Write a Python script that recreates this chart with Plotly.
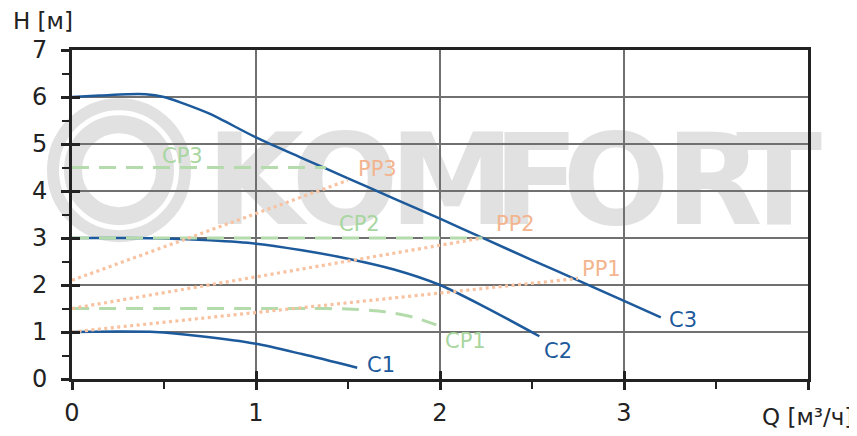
import plotly.graph_objects as go

# ---------------- data ----------------
q_c1 = [0, 0.25, 0.45, 0.7, 1.0, 1.25, 1.55]
h_c1 = [1.0, 1.01, 1.0, 0.91, 0.75, 0.53, 0.24]

q_c2 = [0, 0.3, 0.5, 0.75, 1.0, 1.25, 1.5, 1.75, 2.0, 2.25, 2.54]
h_c2 = [3.0, 3.0, 2.99, 2.95, 2.88, 2.74, 2.56, 2.33, 2.0, 1.52, 0.91]

q_c3 = [0, 0.15, 0.3, 0.4, 0.5, 0.6, 0.75, 1.0, 1.25, 1.5, 1.75, 2.0, 2.25, 2.5, 2.75, 3.0, 3.2]
h_c3 = [6.0, 6.03, 6.06, 6.06, 6.0, 5.87, 5.64, 5.14, 4.7, 4.27, 3.84, 3.41, 2.97, 2.53, 2.1, 1.66, 1.31]

q_cp1 = [0, 1.3, 1.5, 1.7, 1.85, 1.98]
h_cp1 = [1.5, 1.5, 1.49, 1.43, 1.32, 1.15]
q_cp2 = [0, 2.23]
h_cp2 = [3.0, 3.0]
q_cp3 = [0, 1.38]
h_cp3 = [4.5, 4.5]

q_pp1 = [0, 2.75]
h_pp1 = [1.0, 2.14]
q_pp2 = [0, 2.23]
h_pp2 = [1.5, 3.0]
q_pp3 = [0, 1.5]
h_pp3 = [2.1, 4.23]

x_tick_vals = [0, 1, 2, 3, 4]
x_tick_text = ["0", "1", "2", "3", ""]
y_tick_vals = [0, 1, 2, 3, 4, 5, 6, 7]
y_tick_text = ["0", "1", "2", "3", "4", "5", "6", "7"]

curve_names = ["C1", "C2", "C3", "CP1", "CP2", "CP3", "PP1", "PP2", "PP3"]
label_q = [1.68, 2.64, 3.32, 2.14, 1.56, 0.60, 2.88, 2.41, 1.66]
label_h = [0.29, 0.60, 1.26, 0.81, 3.29, 4.74, 2.34, 3.29, 4.46]

watermark_letters = ["K", "O", "M", "F", "O", "R", "T"]
watermark_centers = [255, 345, 452, 536, 616, 714, 779]  # px on screen

# ---------------- styles ----------------
BLUE = "#1d5a9b"
GREEN = "#b3dbab"
ORANGE = "#f8c2a0"
GREEN_TXT = "#a8d69f"
ORANGE_TXT = "#f3b48e"
AX = "#222222"
FONT = "DejaVu Sans"
WM = "#e1e1e1"

OFF = 8  # page body margin
W, H = 857, 436
L, T = 72 - OFF, 49.5 - OFF
PW, PH = 736, 330
R = W - L - PW
B = H - T - PH

def px2paper_x(px):
    return (px - OFF - L) / PW

def px2paper_y(py):
    return (T + PH - (py - OFF)) / PH

fig = go.Figure()

for q, h in [(q_c1, h_c1), (q_c2, h_c2), (q_c3, h_c3)]:
    fig.add_trace(go.Scatter(x=q, y=h, mode="lines", line=dict(color=BLUE, width=2.5, shape="spline", smoothing=0.8),
                             showlegend=False, hoverinfo="skip"))
for q, h in [(q_cp1, h_cp1), (q_cp2, h_cp2), (q_cp3, h_cp3)]:
    fig.add_trace(go.Scatter(x=q, y=h, mode="lines", line=dict(color=GREEN, width=3, dash="17px,10px", shape="spline", smoothing=0.6),
                             showlegend=False, hoverinfo="skip"))
for q, h in [(q_pp1, h_pp1), (q_pp2, h_pp2), (q_pp3, h_pp3)]:
    fig.add_trace(go.Scatter(x=q, y=h, mode="lines", line=dict(color=ORANGE, width=3.2, dash="3px,3.5px"),
                             showlegend=False, hoverinfo="skip"))

fig.add_trace(go.Scatter(x=[None], y=[None], xaxis="x2", yaxis="y2", showlegend=False, hoverinfo="skip"))

label_colors = [BLUE] * 3 + [GREEN_TXT] * 3 + [ORANGE_TXT] * 3
for name, q, h, c in zip(curve_names, label_q, label_h, label_colors):
    fig.add_annotation(x=q, y=h, text=name, showarrow=False, xanchor="center", yanchor="middle",
                       font=dict(family=FONT, size=21, color=c))

fig.add_annotation(xref="paper", yref="paper", x=px2paper_x(11), y=px2paper_y(20), text="H [м]",
                   showarrow=False, xanchor="left", yanchor="middle", font=dict(family=FONT, size=23, color=AX))
fig.add_annotation(xref="paper", yref="paper", x=px2paper_x(855), y=px2paper_y(418), text="Q [м³/ч]",
                   showarrow=False, xanchor="right", yanchor="middle", font=dict(family=FONT, size=23, color=AX))

cx, cy = px2paper_x(119), px2paper_y(170)
shapes = []
for r_mid, lw in [(66, 12), (46, 18)]:
    shapes.append(dict(type="circle", xref="paper", yref="paper", xsizemode="pixel", ysizemode="pixel",
                       xanchor=cx, yanchor=cy, x0=-r_mid, x1=r_mid, y0=-r_mid, y1=r_mid,
                       line=dict(color=WM, width=lw), fillcolor="rgba(0,0,0,0)", layer="below"))
for letter, pxc in zip(watermark_letters, watermark_centers):
    xc = px2paper_x(pxc)
    yc = px2paper_y(171.5)
    shapes.append(dict(type="rect", xref="paper", yref="paper", x0=xc - 0.06, x1=xc + 0.06,
                       y0=yc - 0.2, y1=yc + 0.2,
                       line=dict(width=0), fillcolor="rgba(0,0,0,0)", layer="below",
                       label=dict(text=letter, textposition="middle center",
                                  font=dict(family=FONT, size=126, color=WM, weight="bold"))))

def axis_common(standoff):
    return dict(showline=True, linecolor=AX, linewidth=3, mirror=True, zeroline=False, automargin=False,
                showgrid=True, gridcolor="#707070", gridwidth=1.5,
                ticks="outside", ticklen=8, tickwidth=2.5, tickcolor=AX,
                tickfont=dict(family=FONT, size=24, color=AX), ticklabelstandoff=standoff,
                minor=dict(dtick=0.5, tick0=0, ticks="outside", ticklen=7, tickwidth=2, tickcolor=AX, showgrid=False))

fig.update_layout(
    width=W, height=H,
    margin=dict(l=L, r=R, t=T, b=B, pad=0, autoexpand=False),
    paper_bgcolor="white", plot_bgcolor="rgba(0,0,0,0)",
    font=dict(family=FONT, color=AX),
    showlegend=False,
    shapes=shapes,
    xaxis=dict(range=[0, 4], tickmode="array", tickvals=x_tick_vals, ticktext=x_tick_text, **axis_common(2)),
    yaxis=dict(range=[0, 7], tickmode="array", tickvals=y_tick_vals, ticktext=y_tick_text, **axis_common(9)),
    xaxis2=dict(range=[0, 4], overlaying="x", anchor="y2", side="bottom", tickmode="array", tickvals=x_tick_vals,
                ticks="inside", ticklen=8, tickwidth=2.5, tickcolor=AX, showticklabels=False,
                showgrid=False, zeroline=False, showline=False, automargin=False),
    yaxis2=dict(range=[0, 7], overlaying="y", anchor="x2", side="left", tickmode="array", tickvals=y_tick_vals,
                ticks="inside", ticklen=8, tickwidth=2.5, tickcolor=AX, showticklabels=False,
                showgrid=False, zeroline=False, showline=False, automargin=False),
)

fig.write_html("out.html")
